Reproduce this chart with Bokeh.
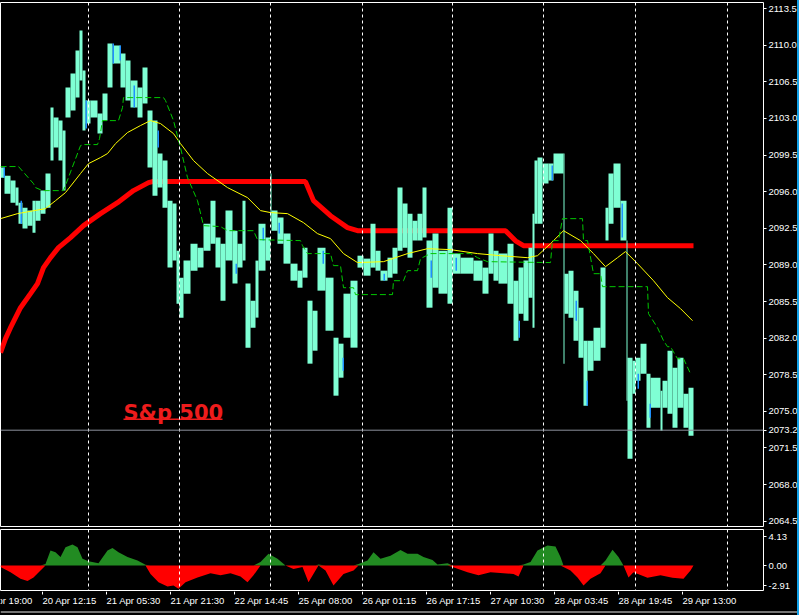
import numpy as np
from bokeh.plotting import figure
from bokeh.layouts import column
from bokeh.models import Range1d, FixedTicker, PrintfTickFormatter, Span, Label
from bokeh.core.properties import value
from bokeh.embed import file_html
from bokeh.resources import INLINE

# ---------------- data (bar index = one M15 bar) ----------------
bar_start = [0, 4, 10, 15, 18, 22, 27, 32, 35, 40, 45, 50, 53, 58, 62, 65, 70, 75, 79, 82,
             85, 90, 97, 102, 107, 112, 120, 125, 130, 137, 142, 147, 152, 157, 162, 167, 172,
             176, 179, 183, 190, 197, 203, 210, 215, 220, 225, 232, 237, 242, 245, 250, 255,
             258, 265, 270, 271, 277, 283, 290, 297, 302, 307, 312, 317, 325, 333, 338, 343,
             350, 357, 363, 370, 375, 380, 387, 392, 397, 402, 407, 412, 417, 422, 426, 432,
             438, 447, 452, 460, 473, 482, 488, 493, 498, 507, 513, 518, 523, 528, 532, 534,
             537, 542, 548, 553, 563, 564, 568, 573, 578, 583, 587, 593, 600, 605, 608, 613,
             620, 626, 627, 632, 635, 640, 646, 650, 660, 662, 667, 672, 677, 683, 688]
bar_high = [2098.30, 2097.53, 2097.06, 2096.39, 2094.95, 2094.47, 2094.19, 2095.14, 2095.14,
            2096.10, 2097.73, 2104.04, 2103.08, 2102.79, 2101.84, 2105.95, 2107.29, 2109.49,
            2111.40, 2107.58, 2104.71, 2104.71, 2103.46, 2105.38, 2110.16, 2109.97, 2109.20,
            2108.53, 2106.62, 2105.95, 2107.86, 2103.75, 2102.79, 2099.64, 2098.97, 2095.14,
            2094.86, 2090.36, 2087.78, 2089.41, 2091.03, 2090.65, 2092.94, 2095.14, 2091.61,
            2091.03, 2094.19, 2092.27, 2091.03, 2095.14, 2087.21, 2085.58, 2089.41, 2092.94,
            2091.61, 2097.73, 2094.19, 2093.52, 2091.99, 2089.12, 2088.45, 2090.65, 2085.58,
            2084.62, 2090.65, 2087.78, 2082.04, 2081.47, 2086.25, 2087.49, 2089.88, 2089.60,
            2092.94, 2090.36, 2088.45, 2089.69, 2090.65, 2096.39, 2094.86, 2093.90, 2093.23,
            2093.90, 2096.39, 2091.32, 2091.99, 2090.36, 2094.47, 2090.08, 2089.69, 2089.41,
            2088.74, 2091.99, 2090.36, 2090.08, 2091.03, 2087.49, 2088.74, 2089.41, 2090.65,
            2093.90, 2098.97, 2099.26, 2098.68, 2098.68, 2099.64, 2099.64, 2088.16, 2088.45,
            2086.54, 2084.91, 2081.76, 2081.76, 2083.00, 2088.74, 2094.47, 2097.73, 2098.68,
            2095.14, 2091.32, 2080.13, 2079.84, 2080.13, 2081.47, 2078.60, 2078.22, 2076.97,
            2077.93, 2080.80, 2079.17, 2080.13, 2076.69, 2077.26]
bar_low = [2097.34, 2095.81, 2094.95, 2094.67, 2092.94, 2092.47, 2092.75, 2092.08, 2093.23,
           2093.90, 2094.47, 2098.97, 2100.21, 2098.97, 2096.10, 2103.08, 2103.75, 2104.99,
           2106.62, 2101.84, 2102.51, 2103.08, 2101.55, 2102.79, 2105.95, 2108.25, 2105.95,
           2104.71, 2104.04, 2103.08, 2104.42, 2098.30, 2095.62, 2096.39, 2094.47, 2088.74,
           2089.41, 2085.29, 2083.96, 2086.25, 2088.45, 2088.74, 2090.36, 2091.03, 2088.74,
           2085.58, 2089.41, 2087.21, 2088.74, 2089.41, 2081.09, 2083.00, 2083.96, 2088.45,
           2089.41, 2093.23, 2092.27, 2091.03, 2089.12, 2087.49, 2086.82, 2087.78, 2079.56,
           2080.80, 2086.54, 2082.71, 2076.50, 2078.22, 2082.04, 2081.09, 2088.74, 2087.97,
           2088.74, 2088.45, 2087.49, 2087.78, 2088.16, 2090.36, 2090.65, 2089.69, 2091.32,
           2091.32, 2091.61, 2084.91, 2086.82, 2086.25, 2085.29, 2088.16, 2088.16, 2087.49,
           2086.25, 2088.16, 2087.49, 2087.21, 2085.29, 2081.76, 2084.34, 2083.67, 2085.87,
           2083.00, 2092.94, 2092.94, 2096.77, 2097.06, 2097.73, 2079.56, 2084.34, 2083.96,
           2081.76, 2080.13, 2075.54, 2078.89, 2079.84, 2081.09, 2091.32, 2092.94, 2094.47,
           2091.32, 2076.02, 2070.47, 2076.69, 2077.93, 2078.60, 2073.44, 2075.35, 2073.15,
           2075.35, 2074.78, 2073.44, 2075.35, 2073.44, 2072.67]
last_bar_end = 693

down_x = [3, 20, 85, 112, 119, 133, 157, 235, 262, 278, 322, 342, 383, 430, 455, 518, 551,
          575, 586, 621, 637, 649]
down_high = [2098.30, 2095.14, 2104.71, 2110.16, 2109.97, 2106.14, 2101.84, 2089.12, 2092.56,
             2093.04, 2090.36, 2080.13, 2088.16, 2089.41, 2089.69, 2083.67, 2098.49, 2085.58,
             2077.93, 2094.86, 2078.60, 2075.73]
down_low = [2097.34, 2092.94, 2102.03, 2108.25, 2108.53, 2104.04, 2100.21, 2088.16, 2091.32,
            2091.99, 2089.12, 2078.89, 2087.49, 2087.78, 2088.45, 2082.04, 2097.06, 2083.67,
            2075.54, 2091.61, 2077.17, 2074.39]

red_x = [0, 5, 10, 20, 30, 37, 43, 50, 58, 70, 83, 100, 117, 133, 148, 152, 305, 313, 330,
         347, 357, 505, 515, 523, 693]
red_y = [2080.61, 2081.95, 2083.00, 2084.91, 2086.25, 2087.21, 2088.74, 2089.69, 2090.65,
         2091.61, 2092.75, 2093.90, 2094.95, 2096.10, 2096.86, 2096.96, 2096.96, 2095.14,
         2093.70, 2092.56, 2092.27, 2092.27, 2091.30, 2090.84, 2090.84]

yel_x = [0, 17, 45, 55, 65, 80, 88, 100, 107, 115, 127, 140, 150, 160, 173, 180, 193, 207,
         227, 247, 260, 270, 287, 303, 317, 330, 343, 357, 383, 407, 427, 450, 477, 500, 527,
         537, 550, 563, 580, 593, 605, 617, 625, 637, 653, 667, 680, 692]
yel_y = [2093.42, 2093.90, 2094.38, 2095.14, 2095.91, 2097.73, 2098.68, 2099.26, 2099.64,
         2100.59, 2101.65, 2102.32, 2102.79, 2102.51, 2101.55, 2100.59, 2098.97, 2097.73,
         2096.39, 2095.43, 2094.19, 2094.00, 2093.90, 2093.04, 2091.99, 2091.51, 2090.08,
         2089.22, 2089.31, 2090.08, 2090.55, 2090.46, 2090.08, 2089.88, 2089.69, 2089.88,
         2091.03, 2092.27, 2091.32, 2090.08, 2088.83, 2089.69, 2090.27, 2089.12, 2087.49,
         2085.87, 2084.82, 2083.67]

grn_x = [0, 18, 33, 35, 42, 63, 80, 83, 97, 99, 102, 118, 122, 123, 163, 165, 173, 180, 187,
         197, 203, 220, 227, 253, 257, 300, 302, 307, 330, 333, 340, 343, 353, 355, 392, 393,
         403, 407, 417, 420, 430, 470, 477, 487, 550, 552, 558, 562, 582, 583, 587, 593, 600,
         602, 647, 648, 657, 663, 667, 670, 677, 683, 690]
grn_y = [2098.40, 2098.40, 2096.77, 2096.39, 2096.10, 2096.10, 2100.40, 2100.50, 2100.50,
         2101.07, 2102.79, 2102.79, 2104.04, 2104.99, 2104.99, 2104.71, 2102.79, 2100.21,
         2097.34, 2095.14, 2092.75, 2092.66, 2092.27, 2092.27, 2091.41, 2091.32, 2090.84,
         2090.08, 2090.08, 2088.93, 2088.93, 2086.82, 2086.82, 2086.16, 2086.16, 2087.49,
         2087.49, 2088.45, 2088.45, 2089.60, 2090.08, 2090.08, 2089.69, 2089.31, 2089.22,
         2091.32, 2091.32, 2093.42, 2093.42, 2091.32, 2091.32, 2088.16, 2088.16, 2086.92,
         2086.92, 2084.34, 2083.00, 2081.76, 2081.18, 2081.18, 2080.03, 2080.03, 2078.60]

osc_x = [0, 10, 20, 27, 33, 40, 45, 50, 55, 60, 65, 72, 77, 82, 88, 98, 107, 112, 118, 127,
         137, 145, 150, 158, 167, 173, 178, 185, 197, 210, 220, 230, 240, 247, 253, 260, 268,
         277, 285, 293, 302, 308, 315, 318, 325, 333, 343, 353, 358, 367, 373, 380, 390, 400,
         407, 417, 423, 432, 437, 447, 452, 467, 478, 490, 503, 513, 518, 523, 530, 537, 547,
         555, 560, 563, 570, 577, 583, 590, 600, 605, 612, 618, 623, 628, 633, 647, 660, 672,
         683, 690, 693]
osc_v = [-0.2, -0.95, -1.9, -2.2, -1.7, -0.7, 0.2, 2.14, 1.9, 1.2, 2.6, 3.0, 2.6, 0.95, 0.6,
         0.33, 2.14, 2.5, 1.9, 1.2, 0.7, 0.1, -1.2, -2.4, -3.0, -2.85, -3.3, -2.4, -1.7, -1.1,
         -1.4, -1.1, -1.55, -2.4, -1.4, 0.5, 1.66, 0.95, 0.0, -0.5, -0.2, -2.4, -0.7, 0.14,
         -0.7, -2.85, -1.2, -0.7, 0.2, 0.7, 1.9, 0.95, 1.4, 2.2, 1.66, 1.66, 1.2, 0.8, 0.14,
         0.33, -0.2, -0.95, -1.4, -0.95, -1.1, -1.2, -1.55, 0.14, 0.5, 2.14, 2.85, 2.7, 1.2,
         -0.2, -0.7, -1.7, -2.85, -1.9, -1.1, 0.7, 2.24, 1.2, 0.0, -1.7, -0.95, -1.75, -1.4,
         -1.75, -1.9, -0.7, 0.0]

separators = [88, 179, 270, 362, 452, 543, 635, 727]
time_ticks = [-22, 42, 106, 170, 234, 298, 362, 426, 490, 554, 618, 682]
time_labels = ["19 Apr 19:00", "20 Apr 12:15", "21 Apr 05:30", "21 Apr 21:30", "22 Apr 14:45",
               "25 Apr 08:00", "26 Apr 01:15", "26 Apr 17:15", "27 Apr 10:30", "28 Apr 03:45",
               "28 Apr 19:45", "29 Apr 13:00"]
price_ticks = [2113.5, 2110.0, 2106.5, 2103.0, 2099.5, 2096.0, 2092.5, 2089.0, 2085.5, 2082.0,
               2078.5, 2075.0, 2071.5, 2068.0, 2064.5]
osc_ticks = [4.13, 0.0, -2.91]
last_price = 2073.2
title_text = "S&p 500"
title_x = 123
title_price = 2074.82
title_width = 99
underline_price = 2074.25

# ---------------- styles ----------------
BG = "#000000"
FONT = "Liberation Sans"
FS = "9.5px"

x_range = Range1d(0, 763)

p = figure(frame_width=763, frame_height=525, x_range=x_range,
           y_range=Range1d(2063.9, 2114.08), output_backend="svg", toolbar_location=None,
           min_border_left=0, min_border_top=2, min_border_bottom=0, min_border_right=36,
           background_fill_color=BG, border_fill_color=BG, outline_line_color="white",
           x_axis_location=None, y_axis_location="right")
p.grid.visible = False


def style_right_axis(ax, ticks, fmt):
    ax.ticker = FixedTicker(ticks=ticks)
    ax.formatter = PrintfTickFormatter(format=fmt)
    ax.axis_line_color = None
    ax.major_tick_line_color = "white"
    ax.major_tick_out = 3
    ax.major_tick_in = 0
    ax.minor_tick_line_color = None
    ax.major_label_text_color = "white"
    ax.major_label_text_font = FONT
    ax.major_label_text_font_size = FS
    ax.major_label_standoff = 2


style_right_axis(p.yaxis[0], price_ticks + [last_price], "%.1f")

for s in separators:
    p.add_layout(Span(location=s, dimension="height", line_color="white",
                      line_dash="3 3", line_width=1))

p.line(red_x, red_y, line_color="#ff0000", line_width=5)

rights = bar_start[1:] + [last_bar_end]
p.quad(left=bar_start, right=rights, top=bar_high, bottom=bar_low,
       fill_color="#7fffd4", line_color=None)
p.quad(left=down_x, right=[x + 1.5 for x in down_x], top=down_high, bottom=down_low,
       fill_color="#1e90ff", line_color=None)

p.line(yel_x, yel_y, line_color="#ffff00", line_width=1)
p.line(grn_x, grn_y, line_color="#00c800", line_width=1, line_dash="6 3")

p.add_layout(Span(location=last_price, dimension="width", line_color="#8c909c", line_width=1))

p.add_layout(Label(x=title_x, y=title_price, text=title_text, text_color="#ee1c1c",
                   text_font="DejaVu Sans", text_font_style="bold", text_font_size="21px",
                   text_baseline="alphabetic", text_align="left"))
p.segment(x0=[title_x], y0=[underline_price], x1=[title_x + title_width],
          y1=[underline_price], line_color="#ee1c1c", line_width=1.5)

# ---------------- oscillator panel ----------------
q = figure(frame_width=763, frame_height=62, x_range=x_range, y_range=Range1d(-3.70, 5.13),
           output_backend="svg", toolbar_location=None,
           min_border_left=0, min_border_top=2, min_border_bottom=0, min_border_right=36,
           background_fill_color=BG, border_fill_color=BG, outline_line_color="white",
           x_axis_location=None, y_axis_location="right")
q.grid.visible = False
style_right_axis(q.yaxis[0], osc_ticks, "%.2f")

for s in separators:
    q.add_layout(Span(location=s, dimension="height", line_color="white",
                      line_dash="3 3", line_width=1))

osc = np.array(osc_v)
q.varea(x=osc_x, y1=0, y2=np.maximum(osc, 0), fill_color="#228b22")
q.varea(x=osc_x, y1=np.minimum(osc, 0), y2=0, fill_color="#ff0000")

# ---------------- time scale strip (same 1 bar per pixel scale, full width) ----------------
r = figure(frame_width=799, frame_height=24, x_range=Range1d(0, 799), y_range=Range1d(0, 24),
           output_backend="svg", toolbar_location=None,
           min_border_left=0, min_border_top=0, min_border_bottom=0, min_border_right=0,
           background_fill_color=BG, border_fill_color=BG, outline_line_color=None,
           x_axis_location=None, y_axis_location=None)
r.grid.visible = False
n = len(time_ticks)
r.segment(x0=time_ticks, y0=[24] * n, x1=time_ticks, y1=[21] * n, line_color="white",
          line_width=1)
r.text(x=time_ticks, y=[15] * n, text=time_labels, text_align="left", text_baseline="middle",
       text_color="white", text_font=value(FONT), text_font_size=value(FS))
r.add_layout(Span(location=3.5, dimension="width", line_color="#e8e8e8", line_width=1))

layout = column(p, q, r, spacing=0)
html = file_html(layout, INLINE)
html = html.replace("<head>", "<head><style>html,body{margin:0;padding:0;background:#000;"
                    "overflow:hidden}body::after{content:'';position:fixed;top:0;right:0;"
                    "width:2px;height:100%;background:#12a0e8;z-index:9999;}</style>", 1)
open("out.html", "w").write(html)
